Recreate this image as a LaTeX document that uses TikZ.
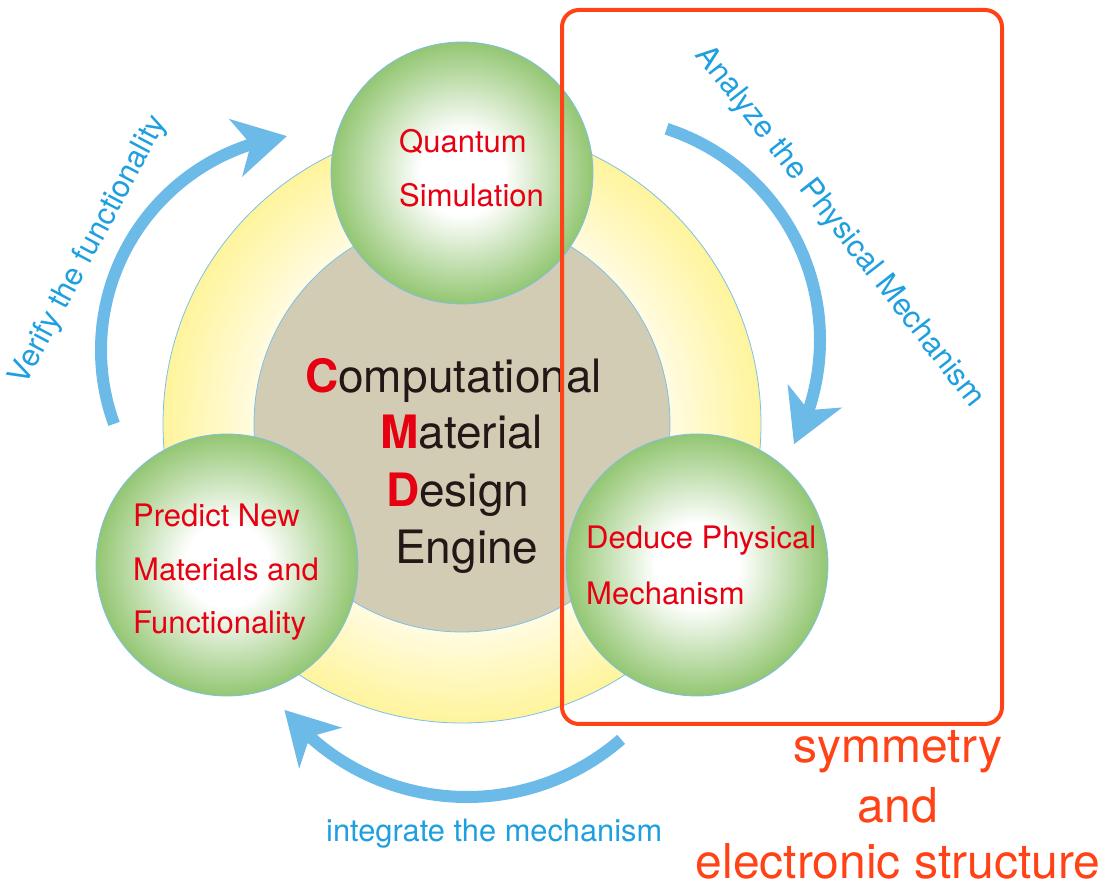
\documentclass[tikz,border=0pt]{standalone}
\usepackage{fontspec}
\setmainfont{TeX Gyre Heros}
\usetikzlibrary{arrows.meta,bending}

\definecolor{ringin}{HTML}{FFFCE4}
\definecolor{ringout}{HTML}{FFF49C}
\definecolor{core}{HTML}{D3CCB5}
\definecolor{ballout}{HTML}{93C672}
\definecolor{rimblue}{HTML}{7CC0EA}
\definecolor{flowblue}{HTML}{6CBAE8}
\definecolor{labelblue}{HTML}{1E9FE0}
\definecolor{cmdred}{HTML}{E60012}
\definecolor{inkblack}{HTML}{231815}
\definecolor{focusred}{HTML}{FF4317}

% pale centre fading to yellow at the outer rim of the ring
\pgfdeclareradialshading{ringshade}{\pgfpoint{0bp}{0bp}}{color(0bp)=(ringin); color(17bp)=(ringin); color(25bp)=(ringout); color(50bp)=(ringout)}
% white core fading to green at the rim of each sphere
\pgfdeclareradialshading{ballshade}{\pgfpoint{0bp}{0bp}}{color(0bp)=(white); color(8bp)=(white); color(25bp)=(ballout); color(50bp)=(ballout)}

\tikzset{
  ball/.style={circle, inner sep=0pt, minimum size=262pt, shade, shading=ballshade, draw=rimblue, line width=0.8pt},
  balltext/.style={text=cmdred, font=\fontsize{31}{36}\selectfont, anchor=base west, inner sep=0pt},
  cmdtext/.style={text=inkblack, font=\fontsize{46}{54}\selectfont, anchor=base west, inner sep=0pt},
  flow/.style={draw=flowblue, line width=12pt, -{Stealth[length=52pt,width=58pt,inset=15pt]}},
  flowlabel/.style={text=labelblue, font=\fontsize{30.8}{36}\selectfont, inner sep=0pt},
  focus/.style={draw=focusred, line width=4pt, rounded corners=17pt},
  focustext/.style={text=focusred, font=\fontsize{48}{58}\selectfont, anchor=base, inner sep=0pt}
}

\begin{document}
\begin{tikzpicture}[x=1pt, y=1pt]
\useasboundingbox (0,0) rectangle (1116,888);

% outer ring and inner core
\node[circle, inner sep=0pt, minimum size=598pt, shade, shading=ringshade, draw=rimblue, line width=0.8pt] (ring) at (462,464) {};
\node[circle, inner sep=0pt, minimum size=416pt, fill=core, draw=rimblue, line width=0.8pt] (core) at (462,464) {};

% the three stages
\node[ball] (qs) at (462,715) {};
\node[ball] (pn) at (227,323) {};
\node[ball] (dp) at (697,323) {};

\node[balltext] (qs1) at (399,735) {Quantum};
\node[balltext] (qs2) at (399,681) {Simulation};
\node[balltext] (pn1) at (133,361) {Predict New};
\node[balltext] (pn2) at (133,307) {Materials and};
\node[balltext] (pn3) at (133,254) {Functionality};
\node[balltext] (dp1) at (586,339) {Deduce Physical};
\node[balltext] (dp2) at (586,283) {Mechanism};

% engine title
\node[cmdtext] (cmd1) at (305,495) {{\bfseries\color{cmdred}C}omputational};
\node[cmdtext] (cmd2) at (380,439) {{\bfseries\color{cmdred}M}aterial};
\node[cmdtext] (cmd3) at (386,381) {{\bfseries\color{cmdred}D}esign};
\node[cmdtext] (cmd4) at (395,324) {Engine};

% cycle arrows
\coordinate (vfc) at (317,538);
\coordinate (apc) at (598,548);
\coordinate (imc) at (467,326);
\draw[flow] ([shift={(200:216)}]vfc) arc[start angle=200, end angle=98, radius=216];
\draw[flow] ([shift={(72:222)}]apc) arc[start angle=72, end angle=-28, radius=222];
\draw[flow] ([shift={(-49:235)}]imc) arc[start angle=-49, end angle=-141, radius=235];

\node[flowlabel, anchor=base, rotate=62] (vf) at (96,634) {Verify the functionality};
\node[flowlabel, anchor=base, rotate=-52] (ap) at (833,656) {Analyze the Physical Mechanism};
\node[flowlabel, anchor=base west] (im) at (326,46) {integrate the mechanism};

% highlighted region
\draw[focus] (562,878) rectangle (1002,164);
\node[focustext] (ft1) at (898,125) {symmetry};
\node[focustext] (ft2) at (898,65) {and};
\node[focustext] (ft3) at (898,9) {electronic structure};
\end{tikzpicture}
\end{document}
